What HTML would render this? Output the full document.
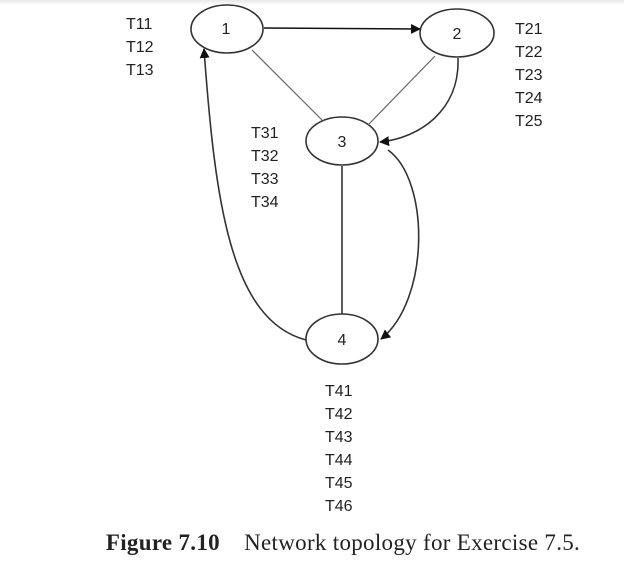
<!DOCTYPE html>
<html><head><style>
body{margin:0;background:#fff;width:624px;height:571px;overflow:hidden;position:relative}
.t{position:absolute;font-family:"Liberation Sans",sans-serif;font-size:16px;line-height:23px;color:#222}
.cap{position:absolute;left:0;width:686px;top:530px;text-align:center;font-family:"Liberation Serif",serif;font-size:23px;letter-spacing:0.3px;color:#222}
</style></head><body>
<div style="position:absolute;left:0;top:0;width:624px;height:5px;background:linear-gradient(#e8e8e8,#fff)"></div>
<svg width="624" height="571" style="position:absolute;left:0;top:0">
<defs><marker id="a" markerWidth="10" markerHeight="10" refX="9" refY="5" orient="auto" markerUnits="userSpaceOnUse"><path d="M0,0 L10,5 L0,10z" fill="#111"/></marker></defs>
<g fill="none" stroke="#333" stroke-width="1.6">
<ellipse cx="227" cy="29" rx="36" ry="24" fill="#fff"/>
<ellipse cx="457" cy="33" rx="37" ry="24"/>
<ellipse cx="342" cy="141" rx="36" ry="24"/>
<ellipse cx="342" cy="339" rx="36" ry="25"/>
<line x1="264" y1="28" x2="420" y2="29" stroke="#111" marker-end="url(#a)"/>
<line x1="252" y1="50" x2="322" y2="120" stroke="#666" stroke-width="1.2"/>
<line x1="435" y1="56" x2="368" y2="125" stroke="#666" stroke-width="1.2"/>
<line x1="342" y1="166" x2="342" y2="314"/>
<path d="M458,58 C460,110 420,138 380,142" marker-end="url(#a)"/>
<path d="M388,150 C430,180 430,300 381,339" marker-end="url(#a)"/>
<path d="M306,340 C230,320 215,200 204,49" marker-end="url(#a)"/>
</g>
<g font-family="Liberation Sans,sans-serif" font-size="16" text-anchor="middle" fill="#222">
<text x="226" y="34">1</text><text x="457" y="39">2</text><text x="342" y="147">3</text><text x="342" y="345">4</text>
</g>
</svg>
<div class="t" style="left:126px;top:13px">T11<br>T12<br>T13</div>
<div class="t" style="left:515px;top:18px">T21<br>T22<br>T23<br>T24<br>T25</div>
<div class="t" style="left:251px;top:122px">T31<br>T32<br>T33<br>T34</div>
<div class="t" style="left:325px;top:380px">T41<br>T42<br>T43<br>T44<br>T45<br>T46</div>
<div class="cap"><b>Figure 7.10</b>&nbsp;&nbsp;&nbsp;&nbsp;Network topology for Exercise 7.5.</div>
</body></html>
